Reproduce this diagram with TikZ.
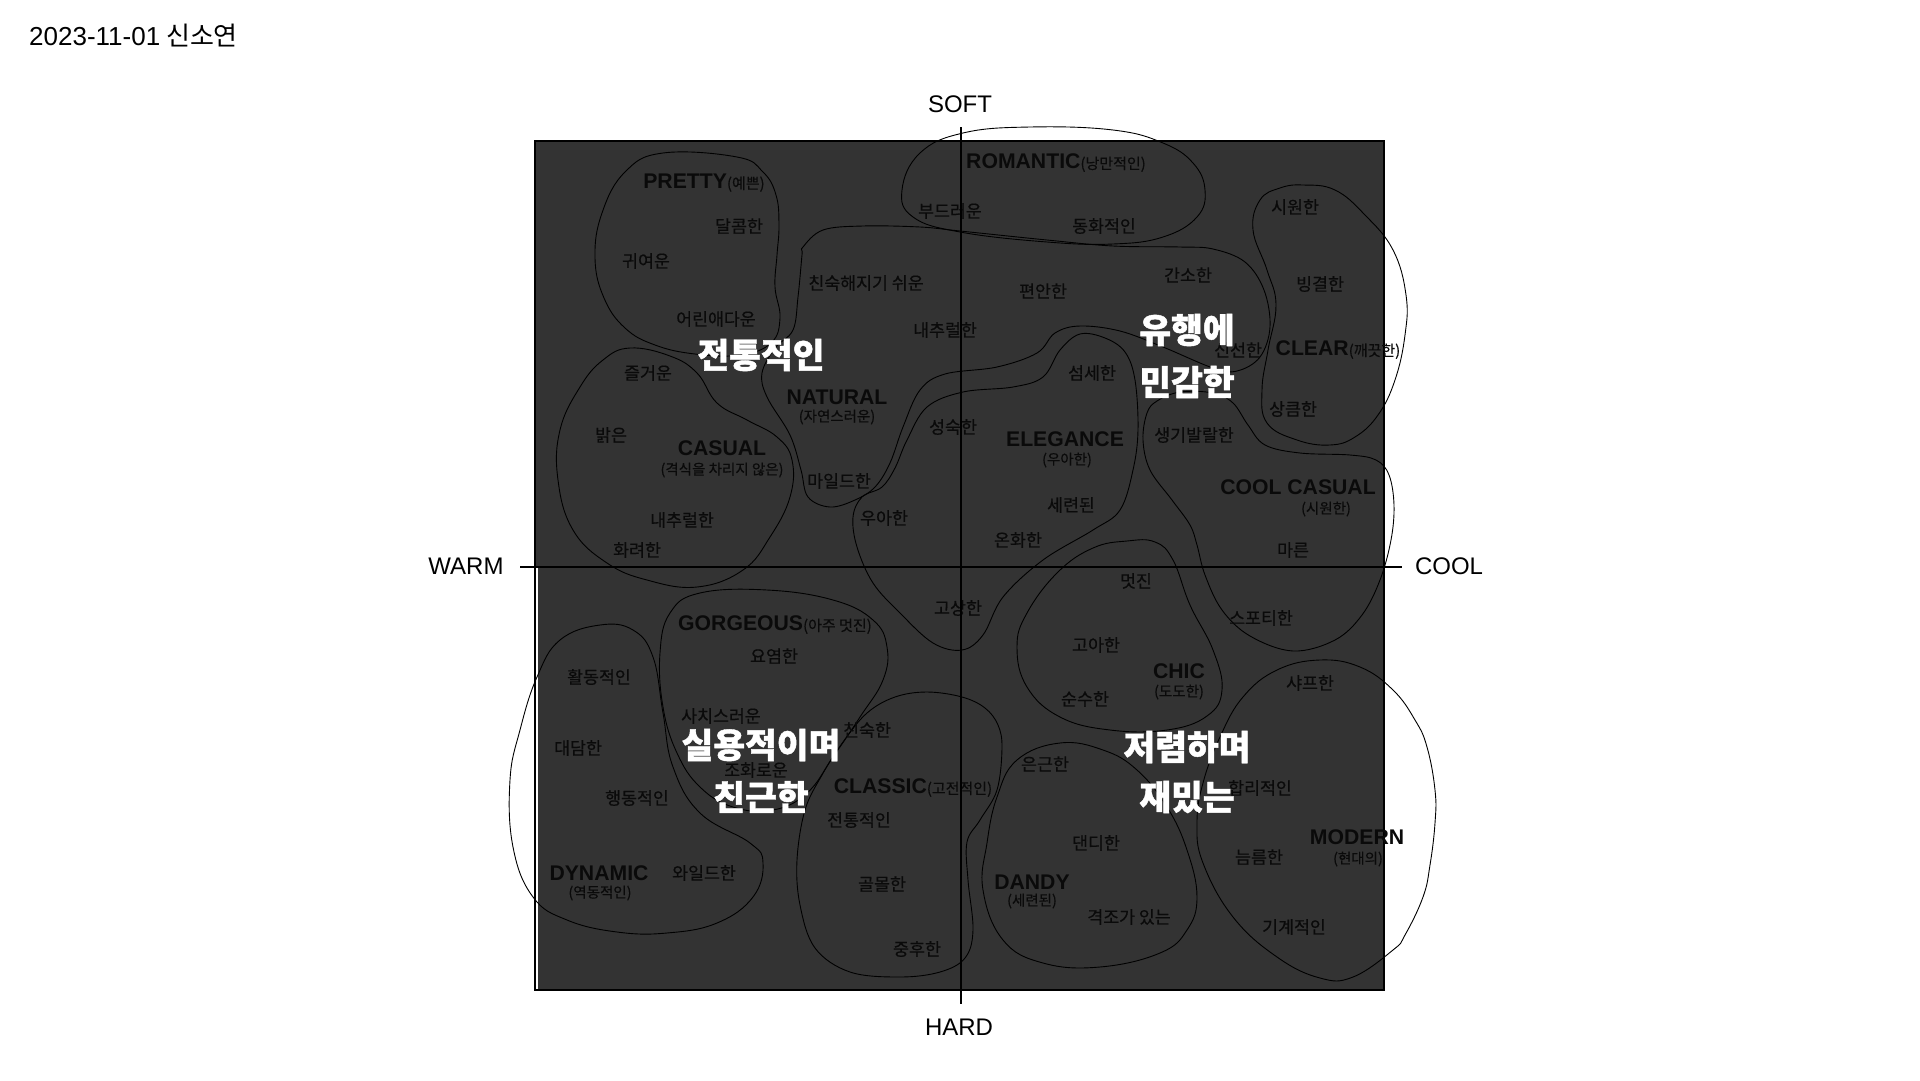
\documentclass[tikz,border=0pt]{standalone}
\usepackage{fontspec}
\setmainfont{Noto Sans CJK KR}
\newfontfamily\lat{Liberation Sans}
\newfontfamily\krw[FakeBold=0.4]{Noto Sans CJK KR}
\newfontfamily\krb[FakeBold=1.2]{Noto Sans CJK KR}
\definecolor{panel}{HTML}{333333}
\definecolor{ink}{HTML}{0A0A0A}
\newcommand\ksub[1]{{\krw\mdseries\fontsize{15}{18}\selectfont #1}}
\tikzset{
  kw/.style={font=\krw\fontsize{17.3}{21}\selectfont, text=ink, inner sep=0pt},
  cat/.style={font=\lat\bfseries\fontsize{21.2}{25}\selectfont, text=ink, inner sep=0pt},
  sub/.style={font=\krw\fontsize{14.5}{17}\selectfont, text=ink, inner sep=0pt},
  big/.style={font=\krb\bfseries\fontsize{34.5}{40}\selectfont, text=white, inner sep=0pt},
  axislabel/.style={font=\lat\fontsize{24}{28}\selectfont, text=black, inner sep=0pt},
  blob/.style={draw=black, line width=0.9pt},
  axisline/.style={draw=black, line width=2pt},
}
\begin{document}
\begin{tikzpicture}[x=1pt,y=-1pt]
\useasboundingbox (0,0) rectangle (1920,1080);
\fill[white] (0,0) rectangle (1920,1080);
% panel
\fill[panel] (535,141) rectangle (1384,567);
\fill[panel] (538,567) rectangle (1384,990);
\draw[line width=1.5pt] (535,141) rectangle (1384,990);
% blobs
\draw[blob] plot[smooth cycle, tension=0.7] coordinates {(663,153) (737,157) (763,172) (776,195) (779,225) (777,255) (775,287) (780,318) (771,343) (740,355) (695,354) (655,345) (625,328) (604,298) (595,258) (602,213) (625,172)};
\draw[blob] plot[smooth cycle, tension=0.7] coordinates {(902,190) (920,153) (963,133) (1030,127) (1113,130) (1163,143) (1193,163) (1205,190) (1197,217) (1163,237) (1113,244) (1047,242) (960,232) (913,217)};
\draw[blob] plot[smooth cycle, tension=0.6] coordinates {(803,247) (823,230) (863,226) (920,227) (960,231) (1047,240) (1113,246) (1180,247) (1213,249) (1245,262) (1264,290) (1270,327) (1260,357) (1237,371) (1213,368) (1163,347) (1120,331) (1080,326) (1055,333) (1037,353) (997,367) (945,374) (920,390) (903,427) (890,463) (875,487) (855,500) (830,507) (808,497) (801,470) (790,435) (767,397) (762,373) (775,348) (793,330) (798,297) (802,255)};
\draw[blob] plot[smooth cycle, tension=0.6] coordinates {(1080,334) (1105,338) (1125,352) (1135,380) (1138,430) (1133,470) (1120,510) (1093,530) (1043,560) (1003,597) (983,635) (962,650) (933,643) (900,613) (873,583) (857,547) (853,517) (862,497) (882,487) (895,468) (907,440) (927,407) (963,392) (1013,387) (1043,377) (1060,350)};
\draw[blob] plot[smooth cycle, tension=0.7] coordinates {(1303,185) (1335,190) (1365,215) (1393,250) (1406,295) (1405,335) (1395,380) (1378,415) (1355,437) (1330,445) (1297,440) (1267,423) (1262,390) (1268,350) (1276,305) (1267,270) (1253,230) (1260,200) (1280,188)};
\draw[blob] plot[smooth cycle, tension=0.6] coordinates {(1147,413) (1157,401) (1180,392) (1213,393) (1233,403) (1248,425) (1265,445) (1300,453) (1350,455) (1376,460) (1389,475) (1394,505) (1391,540) (1380,580) (1362,615) (1335,640) (1293,651) (1250,636) (1222,610) (1205,575) (1197,545) (1190,525) (1172,500) (1150,470) (1143,440)};
\draw[blob] plot[smooth cycle, tension=0.7] coordinates {(630,348) (670,356) (697,373) (717,403) (747,420) (777,437) (792,460) (790,497) (770,537) (743,570) (697,587) (647,580) (607,563) (573,530) (558,480) (560,430) (580,387) (603,360)};
\draw[blob] plot[smooth cycle, tension=0.7] coordinates {(1093,548) (1127,541) (1155,542) (1173,560) (1190,605) (1213,650) (1222,690) (1207,716) (1167,730) (1110,730) (1060,717) (1027,687) (1017,647) (1027,613) (1058,572)};
\draw[blob] plot[smooth cycle, tension=0.7] coordinates {(1320,660) (1360,667) (1393,690) (1415,720) (1427,747) (1435,790) (1435,823) (1430,865) (1423,897) (1405,935) (1393,950) (1353,977) (1320,978) (1277,957) (1233,917) (1203,863) (1197,823) (1203,783) (1220,737) (1243,697) (1277,670)};
\draw[blob] plot[smooth cycle, tension=0.7] coordinates {(1060,743) (1103,750) (1137,770) (1167,807) (1187,850) (1197,897) (1187,930) (1160,953) (1100,967) (1043,963) (1003,940) (983,890) (987,843) (997,797) (1017,760)};
\draw[blob] plot[smooth cycle, tension=0.6] coordinates {(927,692) (962,697) (985,708) (998,725) (1002,748) (997,790) (980,820) (967,842) (968,880) (973,930) (965,958) (940,972) (900,977) (850,972) (815,948) (800,905) (797,860) (805,810) (822,775) (843,742) (867,713) (895,697)};
\draw[blob] plot[smooth cycle, tension=0.7] coordinates {(700,593) (767,590) (833,600) (873,620) (887,647) (883,680) (860,717) (833,757) (807,793) (773,810) (733,807) (700,787) (677,753) (663,707) (660,653) (670,613)};
\draw[blob] plot[smooth cycle, tension=0.7] coordinates {(600,625) (633,630) (653,657) (663,713) (673,767) (700,813) (750,843) (763,863) (753,897) (717,923) (667,933) (617,932) (567,920) (533,897) (513,847) (510,780) (520,730) (537,677) (560,640)};
% words
\node[cat] (pretty) at (704,183) {PRETTY\ksub{(예쁜)}};
\node[kw] (w1) at (739,226) {달콤한};
\node[kw] (w2) at (646,261) {귀여운};
\node[kw] (w3) at (716,319) {어린애다운};
\node[kw] (w4) at (648,373) {즐거운};
\node[kw] (w5) at (866,283) {친숙해지기 쉬운};
\node[kw] (w6) at (945,330) {내추럴한};
\node[kw] (w7) at (950,211) {부드러운};
\node[cat] (natural) at (837,397) {NATURAL};
\node[sub] (naturalk) at (837,417) {(자연스러운)};
\node[kw] (w8) at (611,435) {밝은};
\node[kw] (w9) at (953,427) {성숙한};
\node[cat] (romantic) at (1056,163) {ROMANTIC\ksub{(낭만적인)}};
\node[kw] (w10) at (1104,226) {동화적인};
\node[kw] (w11) at (1295,207) {시원한};
\node[kw] (w12) at (1043,291) {편안한};
\node[kw] (w13) at (1188,275) {간소한};
\node[kw] (w14) at (1320,284) {빙결한};
\node[kw] (w15) at (1238,350) {신선한};
\node[cat] (clear) at (1338,350) {CLEAR\ksub{(깨끗한)}};
\node[kw] (w16) at (1092,373) {섬세한};
\node[kw] (w17) at (1293,409) {상큼한};
\node[kw] (w18) at (1194,435) {생기발랄한};
\node[cat] (elegance) at (1065,439) {ELEGANCE};
\node[sub] (elegancek) at (1067,460) {(우아한)};
\node[cat] (casual) at (722,448) {CASUAL};
\node[sub] (casualk) at (722,470) {(격식을 차리지 않은)};
\node[kw] (w19) at (839,481) {마일드한};
\node[kw] (w20) at (884,518) {우아한};
\node[kw] (w21) at (682,520) {내추럴한};
\node[kw] (w22) at (637,550) {화려한};
\node[kw] (w23) at (1071,505) {세련된};
\node[kw] (w24) at (1018,540) {온화한};
\node[cat] (coolcasual) at (1298,487) {COOL CASUAL};
\node[sub] (coolcasualk) at (1326,509) {(시원한)};
\node[kw] (w25) at (1293,550) {마른};
\node[kw] (w26) at (1136,581) {멋진};
\node[kw] (w27) at (958,608) {고상한};
\node[cat] (gorgeous) at (775,625) {GORGEOUS\ksub{(아주 멋진)}};
\node[kw] (w28) at (774,656) {요염한};
\node[kw] (w29) at (599,677) {활동적인};
\node[kw] (w30) at (721,716) {사치스러운};
\node[kw] (w31) at (867,730) {친숙한};
\node[kw] (w32) at (578,748) {대담한};
\node[kw] (w33) at (756,770) {조화로운};
\node[cat] (classic) at (913,788) {CLASSIC\ksub{(고전적인)}};
\node[kw] (w34) at (637,798) {행동적인};
\node[kw] (w35) at (859,820) {전통적인};
\node[cat] (dynamic) at (599,873) {DYNAMIC};
\node[sub] (dynamick) at (600,893) {(역동적인)};
\node[kw] (w36) at (704,873) {와일드한};
\node[kw] (w37) at (882,884) {골몰한};
\node[kw] (w38) at (917,949) {중후한};
\node[kw] (w39) at (1261,618) {스포티한};
\node[kw] (w40) at (1096,645) {고아한};
\node[cat] (chic) at (1179,671) {CHIC};
\node[sub] (chick) at (1179,692) {(도도한)};
\node[kw] (w41) at (1085,699) {순수한};
\node[kw] (w42) at (1310,683) {샤프한};
\node[kw] (w43) at (1045,764) {은근한};
\node[kw] (w44) at (1260,788) {합리적인};
\node[kw] (w45) at (1096,843) {댄디한};
\node[cat] (modern) at (1357,837) {MODERN};
\node[sub] (modernk) at (1358,859) {(현대의)};
\node[kw] (w46) at (1259,857) {늠름한};
\node[cat] (dandy) at (1032,882) {DANDY};
\node[sub] (dandyk) at (1032,901) {(세련된)};
\node[kw] (w47) at (1129,917) {격조가 있는};
\node[kw] (w48) at (1294,927) {기계적인};
% axes
\coordinate (vtop) at (961,127);
\coordinate (vbot) at (961,1004);
\coordinate (hleft) at (520,567);
\coordinate (hright) at (1402,567);
\draw[axisline] (vtop) -- (vbot);
\draw[axisline] (hleft) -- (hright);
\node[axislabel] (soft) at (960,104) {SOFT};
\node[axislabel] (hard) at (959,1027) {HARD};
\node[axislabel] (warm) at (466,566) {WARM};
\node[axislabel] (cool) at (1449,566) {COOL};
% big white labels
\node[big] (b1) at (761,355) {전통적인};
\node[big] (b2a) at (1187,330) {유행에};
\node[big] (b2b) at (1187,382) {민감한};
\node[big] (b3a) at (761,745) {실용적이며};
\node[big] (b3b) at (761,797) {친근한};
\node[big] (b4a) at (1187,747) {저렴하며};
\node[big] (b4b) at (1187,797) {재밌는};
% title
\node[anchor=west, inner sep=0pt, font=\fontsize{26}{30}\selectfont] (title) at (29,36) {{\lat 2023-11-01} 신소연};
\end{tikzpicture}
\end{document}
